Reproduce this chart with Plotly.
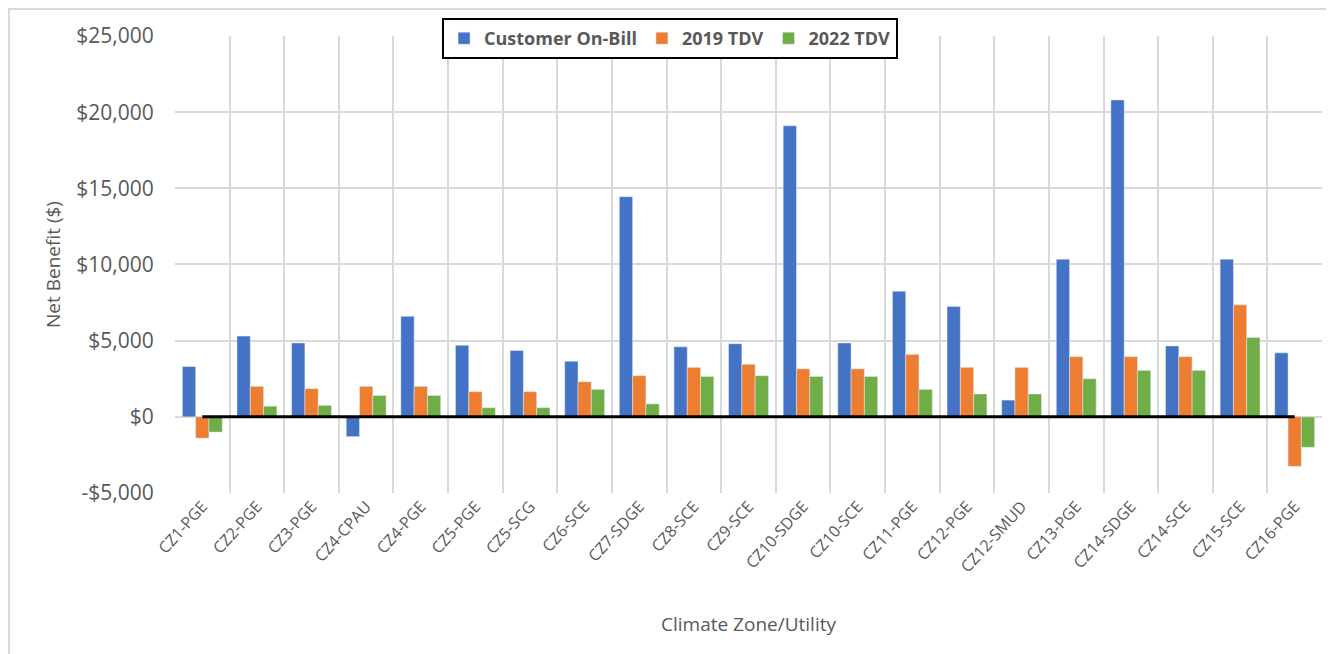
import plotly.graph_objects as go

zones = ['CZ1-PGE', 'CZ2-PGE', 'CZ3-PGE', 'CZ4-CPAU', 'CZ4-PGE', 'CZ5-PGE', 'CZ5-SCG',
         'CZ6-SCE', 'CZ7-SDGE', 'CZ8-SCE', 'CZ9-SCE', 'CZ10-SDGE', 'CZ10-SCE', 'CZ11-PGE',
         'CZ12-PGE', 'CZ12-SMUD', 'CZ13-PGE', 'CZ14-SDGE', 'CZ14-SCE', 'CZ15-SCE', 'CZ16-PGE']
on_bill = [3300, 5300, 4850, -1300, 6600, 4700, 4350, 3650, 14450, 4600, 4800, 19100,
           4850, 8250, 7250, 1100, 10350, 20800, 4650, 10350, 4200]
tdv_2019 = [-1400, 2000, 1850, 2000, 2000, 1650, 1650, 2300, 2700, 3250, 3450, 3150,
            3150, 4100, 3250, 3250, 3950, 3950, 3950, 7350, -3250]
tdv_2022 = [-1000, 700, 750, 1400, 1400, 600, 600, 1800, 850, 2650, 2700, 2650,
            2650, 1800, 1500, 1500, 2500, 3050, 3050, 5200, -2000]
zero_line = [0] * len(zones)
y_ticks = [-5000, 0, 5000, 10000, 15000, 20000, 25000]
y_labels = ['-$5,000', '$0', '$5,000', '$10,000', '$15,000', '$20,000', '$25,000']

COLORS = {'blue': '#4472C4', 'orange': '#ED7D31', 'green': '#70AD47', 'text': '#595959', 'grid': '#D9D9D9'}
FONT = 'Open Sans, sans-serif'

fig = go.Figure()
fig.add_trace(go.Bar(x=zones, y=on_bill, name='Customer On-Bill', marker_color=COLORS['blue']))
fig.add_trace(go.Bar(x=zones, y=tdv_2019, name='2019 TDV', marker_color=COLORS['orange']))
fig.add_trace(go.Bar(x=zones, y=tdv_2022, name='2022 TDV', marker_color=COLORS['green']))
fig.add_trace(go.Scatter(x=zones, y=zero_line, mode='lines', line=dict(color='black', width=3),
                         showlegend=False, hoverinfo='skip'))

# page body has an 8px margin, so the figure is sized/offset to compensate
fig.update_layout(
    width=1326, height=646,
    margin=dict(l=167, r=12, t=2, b=161),
    plot_bgcolor='white', paper_bgcolor='white',
    font=dict(family=FONT, color=COLORS['text']),
    barmode='group', bargap=0.27, bargroupgap=0,
    legend=dict(orientation='h', x=0.4316, xanchor='center', y=0.9834, yanchor='top',
                bgcolor='white', bordercolor='black', borderwidth=2,
                font=dict(size=18, color=COLORS['text'], weight='bold')),
    xaxis=dict(tickson='boundaries', showgrid=True, gridcolor=COLORS['grid'], gridwidth=2,
               ticks='', tickangle=-48, tickfont=dict(size=16, color=COLORS['text']), automargin=False,
               title=dict(text='Climate Zone/Utility', font=dict(size=19, color=COLORS['text']), standoff=41),
               showline=False, zeroline=False),
    yaxis=dict(domain=[0, 0.9462], range=[-5000, 25000], tickvals=y_ticks, ticktext=y_labels,
               showgrid=True, gridcolor=COLORS['grid'], gridwidth=2, zeroline=False, automargin=False,
               tickfont=dict(size=21, color=COLORS['text']), ticks='outside', ticklen=16, tickcolor='white',
               title=dict(text='Net Benefit ($)', font=dict(size=19, color=COLORS['text']), standoff=10)),
    shapes=[dict(type='rect', xref='paper', yref='paper', x0=-0.1447, x1=1.0096, y0=-0.346, y1=1.002,
                 line=dict(color=COLORS['grid'], width=2), layer='below')],
)

fig.write_html("out.html")
